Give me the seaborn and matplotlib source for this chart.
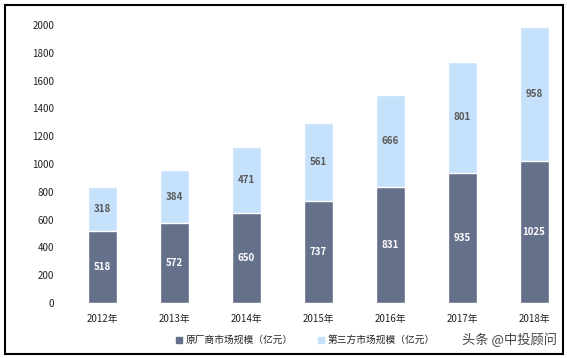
import matplotlib
matplotlib.use("Agg")
import matplotlib.pyplot as plt
import seaborn as sns
import pandas as pd
from matplotlib.patches import Rectangle

years = ["2012年", "2013年", "2014年", "2015年", "2016年", "2017年", "2018年"]
oem = [518, 572, 650, 737, 831, 935, 1025]
third = [318, 384, 471, 561, 666, 801, 958]
yticks = [0, 200, 400, 600, 800, 1000, 1200, 1400, 1600, 1800, 2000]
legend_labels = ["原厂商市场规模（亿元）", "第三方市场规模（亿元）"]
watermark = "头条 @中投顾问"

sns.set_theme(style="white")
plt.rcParams['font.family'] = ['Noto Sans CJK SC', 'DejaVu Sans']

dark = "#65708b"
light = "#c6e1fb"

df = pd.DataFrame({"year": years, "oem": oem, "third": third})
df["total"] = df["oem"] + df["third"]

fig = plt.figure(figsize=(5.67, 3.58), dpi=100)
ax = fig.add_axes([60/567, 55/358, (555-60)/567, (303-25)/358])

sns.barplot(data=df, x="year", y="total", color=light, width=0.4, ax=ax, saturation=1)
sns.barplot(data=df, x="year", y="oem", color=dark, width=0.4, ax=ax, saturation=1)

for i, (a, b) in enumerate(zip(oem, third)):
    ax.text(i, a / 2, str(a), ha="center", va="center", color="white",
            fontsize=7, fontweight="bold")
    ax.text(i, a + b / 2, str(b), ha="center", va="center", color="#595959",
            fontsize=7, fontweight="bold")

ax.set_ylim(0, 2000)
ax.set_xlim(-0.59, 6.29)
ax.set_yticks(yticks)
ax.set_yticklabels([str(v) for v in yticks], fontsize=7, color="#222222")
ax.tick_params(axis="x", labelsize=7, colors="#222222", length=0, pad=8)
ax.tick_params(axis="y", length=0, pad=4)
ax.set_xlabel("")
ax.set_ylabel("")
for s in ax.spines.values():
    s.set_visible(False)

# legend
fig.patches.append(Rectangle((176/567, 1 - 343/358), 6/567, 6/358, transform=fig.transFigure,
                             color=dark, figure=fig))
fig.text(186/567, 1 - 340/358, legend_labels[0], fontsize=7, va="center", ha="left", color="#222222")
fig.patches.append(Rectangle((318/567, 1 - 343/358), 6/567, 6/358, transform=fig.transFigure,
                             color=light, figure=fig))
fig.text(328/567, 1 - 340/358, legend_labels[1], fontsize=7, va="center", ha="left", color="#222222")
fig.text(557/567, 1 - 340/358, watermark, fontsize=9.5, va="center", ha="right", color="#444444")

# border
fig.patches.append(Rectangle((5/567, 4/358), 558/567, 349/358, transform=fig.transFigure,
                             fill=False, edgecolor="black", linewidth=1.5, figure=fig))

fig.savefig("out.png", dpi=100)
